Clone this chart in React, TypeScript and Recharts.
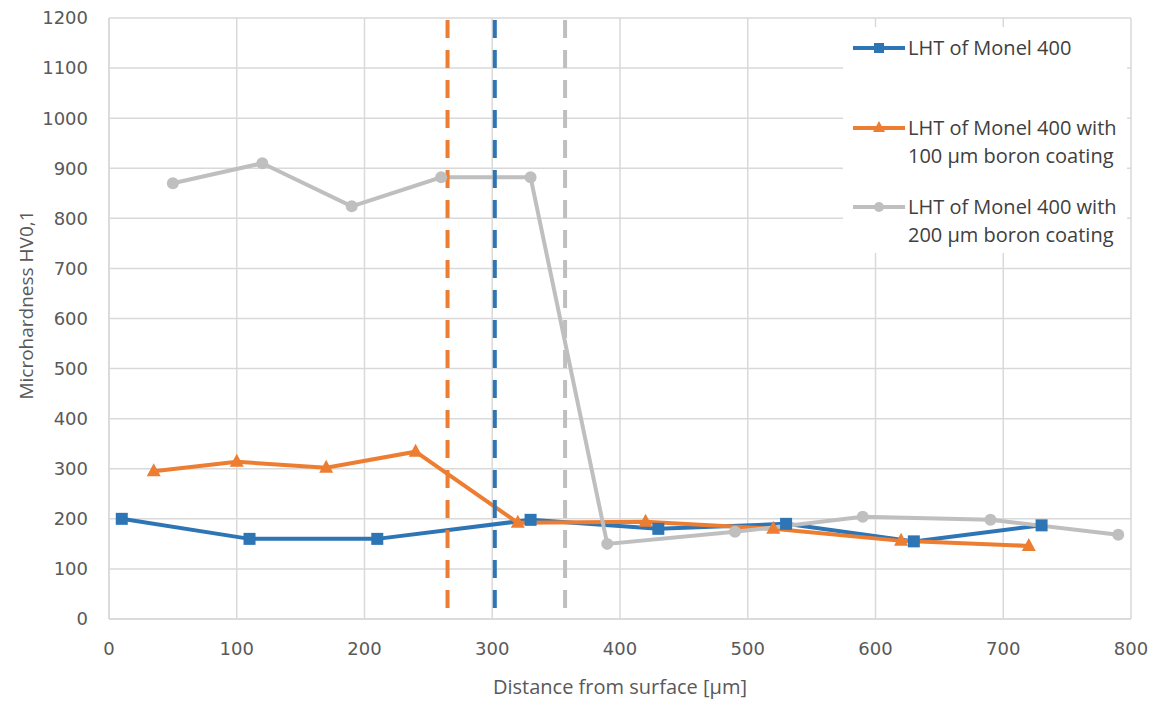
import React from 'react';
import {
  LineChart,
  Line,
  XAxis,
  YAxis,
  CartesianGrid,
  ReferenceLine,
  Legend,
  Label,
} from 'recharts';

// LHT of Monel 400
const monelX = [10, 110, 210, 330, 430, 530, 630, 730];
const monelY = [200, 160, 160, 198, 180, 190, 155, 187];

// with 100 µm boron coating
const boron100X = [35, 100, 170, 240, 320, 420, 520, 620, 720];
const boron100Y = [295, 314, 302, 334, 192, 194, 180, 156, 146];

// with 200 µm boron coating
const boron200X = [50, 120, 190, 260, 330, 390, 490, 590, 690, 790];
const boron200Y = [870, 910, 824, 882, 882, 150, 174, 204, 198, 168];

// layer depth markers
const depthMarkers = [
  { x: 265, color: '#ed7d31' },
  { x: 302, color: '#2e75b6' },
  { x: 357, color: '#bfbfbf' },
];

const xTicks = [0, 100, 200, 300, 400, 500, 600, 700, 800];
const yTicks = [0, 100, 200, 300, 400, 500, 600, 700, 800, 900, 1000, 1100, 1200];

const seriesNames = [
  ['LHT of Monel 400'],
  ['LHT of Monel 400 with', '100 µm boron coating'],
  ['LHT of Monel 400 with', '200 µm boron coating'],
];

const BLUE = '#2e75b6';
const ORANGE = '#ed7d31';
const GRAY = '#bfbfbf';

const toPoints = (xs: number[], ys: number[]) => xs.map((x, i) => ({ x, y: ys[i] }));

const SquareDot = (props: any) => {
  const { cx, cy, index } = props;
  return <rect key={`sq-${index}`} x={cx - 6} y={cy - 6} width={12} height={12} fill={BLUE} />;
};

const TriangleDot = (props: any) => {
  const { cx, cy, index } = props;
  return (
    <polygon
      key={`tr-${index}`}
      points={`${cx},${cy - 8} ${cx + 7},${cy + 5} ${cx - 7},${cy + 5}`}
      fill={ORANGE}
    />
  );
};

const CircleDot = (props: any) => {
  const { cx, cy, index } = props;
  return <circle key={`ci-${index}`} cx={cx} cy={cy} r={6} fill={GRAY} />;
};

const textFont = '"Open Sans", sans-serif';

function LegendBox() {
  const rows = [
    { color: BLUE, y: 21, marker: 'square' },
    { color: ORANGE, y: 101, marker: 'triangle' },
    { color: GRAY, y: 180, marker: 'circle' },
  ];
  return (
    <svg width={284} height={226} style={{ display: 'block' }}>
      <rect x={0} y={0} width={284} height={226} fill="#fff" />
      {rows.map((r, i) => (
        <g key={i}>
          <line x1={10} x2={62} y1={r.y} y2={r.y} stroke={r.color} strokeWidth={4} />
          {r.marker === 'square' && <rect x={31} y={r.y - 5} width={10} height={10} fill={r.color} />}
          {r.marker === 'triangle' && (
            <polygon points={`36,${r.y - 7} 42,${r.y + 4} 30,${r.y + 4}`} fill={r.color} />
          )}
          {r.marker === 'circle' && <circle cx={36} cy={r.y} r={5} fill={r.color} />}
          {seriesNames[i].map((t, j) => (
            <text
              key={j}
              x={65}
              y={r.y + 7 + j * 28}
              fontFamily={textFont}
              fontSize={20}
              fill="#404040"
            >
              {t}
            </text>
          ))}
        </g>
      ))}
    </svg>
  );
}

export default function App() {
  return (
    <div style={{ position: 'absolute', left: 0, top: 0, width: 1153, height: 701, background: '#fff' }}>
      <LineChart width={1153} height={701} margin={{ top: 18, right: 22, left: 0, bottom: 0 }}>
        <CartesianGrid stroke="#d9d9d9" strokeWidth={1.5} />
        <XAxis
          type="number"
          dataKey="x"
          domain={[0, 800]}
          ticks={xTicks}
          height={82}
          tickLine={false}
          tickSize={0}
          tickMargin={23}
          axisLine={{ stroke: '#d9d9d9', strokeWidth: 1.5 }}
          tick={{ fill: '#595959', fontSize: 18, fontFamily: '"DejaVu Sans", sans-serif' }}
        >
          <Label
            content={() => (
              <text
                x={620}
                y={694}
                textAnchor="middle"
                fontFamily={textFont}
                fontSize={20}
                fill="#595959"
              >
                Distance from surface [µm]
              </text>
            )}
          />
        </XAxis>
        <YAxis
          type="number"
          domain={[0, 1200]}
          ticks={yTicks}
          width={109}
          tickLine={false}
          tickSize={0}
          tickMargin={21}
          axisLine={{ stroke: '#d9d9d9', strokeWidth: 1.5 }}
          tick={{ fill: '#595959', fontSize: 18, fontFamily: '"DejaVu Sans", sans-serif' }}
        >
          <Label
            content={() => (
              <text
                x={33}
                y={305}
                transform="rotate(-90, 33, 305)"
                textAnchor="middle"
                fontFamily={textFont}
                fontSize={19}
                fill="#595959"
              >
                Microhardness HV0,1
              </text>
            )}
          />
        </YAxis>
        <Legend
          layout="horizontal"
          verticalAlign="middle"
          align="center"
          wrapperStyle={{ left: 843, top: 27, width: 284, height: 226 }}
          content={() => <LegendBox />}
        />
        <Line
          data={toPoints(monelX, monelY)}
          dataKey="y"
          type="linear"
          stroke={BLUE}
          strokeWidth={4}
          dot={SquareDot}
          activeDot={false}
          isAnimationActive={false}
        />
        <Line
          data={toPoints(boron100X, boron100Y)}
          dataKey="y"
          type="linear"
          stroke={ORANGE}
          strokeWidth={4}
          dot={TriangleDot}
          activeDot={false}
          isAnimationActive={false}
        />
        <Line
          data={toPoints(boron200X, boron200Y)}
          dataKey="y"
          type="linear"
          stroke={GRAY}
          strokeWidth={4}
          dot={CircleDot}
          activeDot={false}
          isAnimationActive={false}
        />
        {depthMarkers.map((m) => (
          <ReferenceLine
            key={m.x}
            segment={[
              { x: m.x, y: 1196 },
              { x: m.x, y: 22 },
            ]}
            stroke={m.color}
            strokeWidth={4}
            strokeDasharray="18 12"
          />
        ))}
      </LineChart>
    </div>
  );
}
